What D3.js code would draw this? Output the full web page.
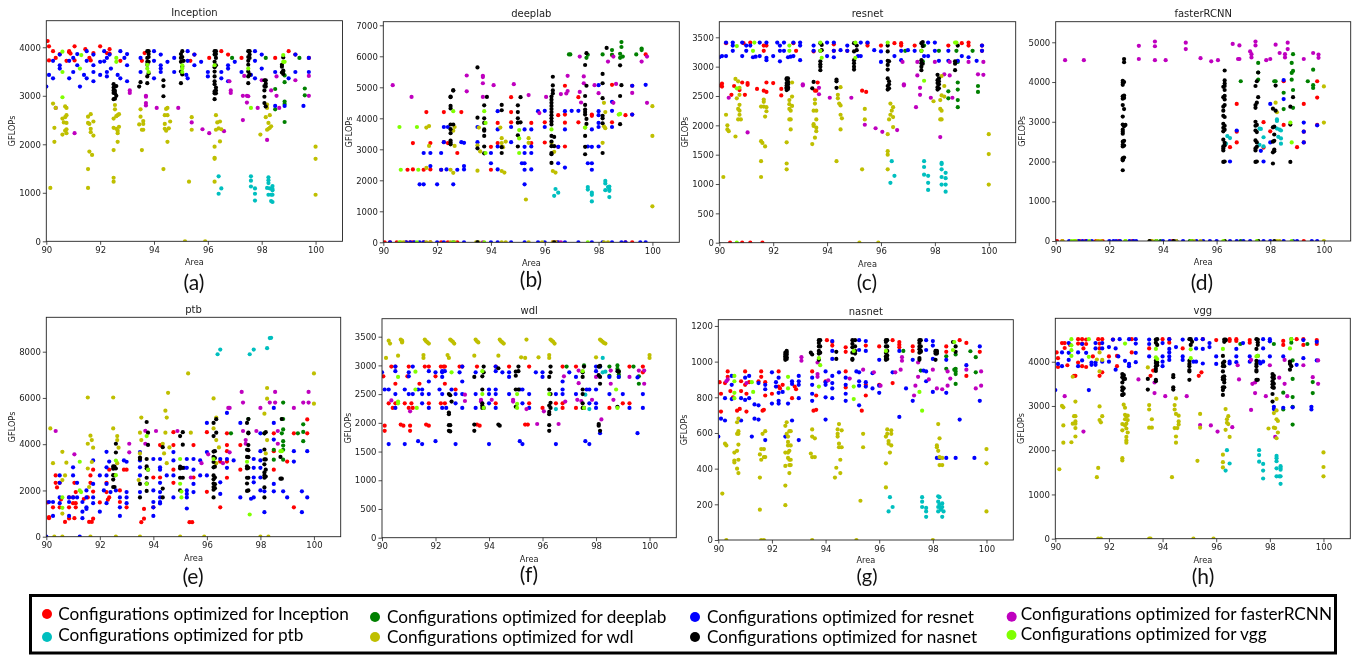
<!DOCTYPE html>
<html><head><meta charset="utf-8">
<style>html,body{margin:0;padding:0;background:#fff;overflow:hidden}svg{display:block;filter:blur(0.35px)}</style>
<script src="https://cdn.jsdelivr.net/npm/d3@7/dist/d3.min.js"></script></head><body>
<svg id="c" width="1362" height="655"></svg>
<script>
const titles=["Inception","deeplab","resnet","fasterRCNN","ptb","wdl","nasnet","vgg"];
const tags=["(a)","(b)","(c)","(d)","(e)","(f)","(g)","(h)"];
const xTicks=[90,92,94,96,98,100];
const yTicksList=[[0,1000,2000,3000,4000],[0,1000,2000,3000,4000,5000,6000,7000],[0,500,1000,1500,2000,2500,3000,3500],[0,1000,2000,3000,4000,5000],[0,2000,4000,6000,8000],[0,500,1000,1500,2000,2500,3000,3500],[0,200,400,600,800,1000,1200],[0,1000,2000,3000,4000]];
const yMax=[4548,7116,3766,5518,9487,3813,1235,4981];
const seriesNames=["Inception","deeplab","resnet","fasterRCNN","ptb","wdl","nasnet","vgg"];
const seriesColors=["#ff0000","#008000","#0000ff","#bf00bf","#00bfbf","#bfbf00","#000000","#7fff00"];
// rows: [area, gflops, gflops, ...]
const a_r=[[90.05,4130],[90.1,4020,3730],[90.25,3920],[90.35,3780],[90.5,3860],[90.85,3900,3920],[90.9,3870],[90.75,3720],[91.05,4020,3730],[91.45,3960],[91.6,3780],[91.65,3730],[91.75,3880],[92,4020],[92.25,3880],[92.35,3960,3870],[92.75,3720],[93.65,3880],[93.55,3720],[95.35,3720],[95.5,3850],[96.05,3780],[96.5,3920],[96.75,3850],[97.25,3780],[98.5,3780],[99,3920],[99.25,3850],[99.75,3780]];
const a_g=[[96.9,3780],[98.15,3780],[99.4,3780],[98.5,3140,2720],[98.85,3280,2880,2830,2460,3420],[98.8,3500],[99.6,3150,3010]];
const a_b=[[90,3190],[90.1,3430],[90.25,3360,3720],[90.5,3850,3630,3560],[90.85,3360,3720],[91,3490,3780],[91.15,3630,3860],[91.25,3190],[91.4,3430],[91.5,3360,3720,3920],[91.75,3490,3300,3630,3850],[92,3430,3700],[92.15,3710,3920],[92.25,3780,3490,3400],[92.35,3850],[92.4,3560],[92.65,3430],[92.75,3360,3920],[92.9,3780],[93,3300,3630,3860],[93.5,3490,3780],[94,3360,3720,3920],[94.25,3490,3560,3630,3850],[94.5,3700],[94.75,3490,3780],[95.25,3360,3720,3920],[95.2,3430],[95.5,3630,3850],[95.75,3700],[96,3490,3400],[96.5,3360,3490],[96.75,3630,3560,3300],[97,3700],[97.25,3490],[97.6,3430],[97.75,3360,3720,3920],[98,3850,3560],[98.15,2780],[98.5,3490,2790],[98.85,2790],[99,3360],[99.25,3490,3850],[99.55,2790],[99.75,3490,3780]];
const a_m=[[90.35,2750],[91.05,2230],[93.1,3110,3060],[93.7,3000,2980,2850,2800],[94.1,2750],[94.9,2750],[95.4,2450],[95.8,2310],[96.05,2230],[96.6,2270],[96.8,3300],[96.85,3110,3060],[97.3,2500,3000],[97.35,3410],[97.45,3000,2860],[97.5,2990],[97.85,2750],[98,3320],[98.2,2090],[98.35,3110],[98.55,3400,3000],[98.65,2750],[99.25,3320],[99.75,3410,3000]];
const a_c=[[96.4,1340,980],[96.5,1090],[97.6,1340,1250,1130],[97.75,1090,980,840],[98.25,1320,1260,1200,960],[98.2,1100],[98.3,1090],[98.35,960,830],[98.4,960,1140,1080,1050,810]];
const a_y=[[90.15,1100],[90.25,2840],[90.3,2340,2050],[90.35,2750],[90.6,2530,2200],[90.65,2450],[90.7,2780,2560,2280],[90.75,2750,2600,2440,2310,2230],[91.55,1490,1100,2570,2440],[91.6,2420,1850],[91.65,2620,2250,2320],[91.7,1780],[91.75,2470,2180],[92.5,2530,2340,1880,1310,1230],[92.55,2810,2720],[92.6,2580,2320],[92.65,2600,2280,2230,2050],[92.7,2620,2360],[93.45,2410],[93.5,2720,2570],[93.55,2300,1880],[93.6,2480,2420,2300],[94.35,1490],[94.4,2420,2320,2600],[94.45,2730,2280],[94.5,2750,2600,2050],[94.55,2330],[94.6,2470],[95.15,0],[95.3,1230],[95.4,2560,2300],[95.9,0],[96.25,1950,1720,1700,1230],[96.3,2600,2300],[96.35,2450],[96.4,2330],[96.45,2470,2060],[96.5,2310],[97.95,2200],[98.15,2560],[98.2,2820,2750,2300],[98.25,2320,2440],[98.3,2340,2600],[98.35,2370],[100,1950,1700,960]];
const a_k=[[92.5,2930,3060,3110,3170,3240],[92.55,2940,3050,3100,3190],[92.6,3000,3200],[93.45,3190],[93.5,3280],[93.75,3260,3400,3700,3780,3920,3640],[93.8,3460,3800,3860,3700,3920],[94.35,2990,3200,3320],[95,3260,3500,3700,3780,3860],[95.05,3440,3600,3800,3920],[95.1,3720],[96.25,2930,3050,3090,3240,3300,3400,3500,3590,3700,3850,3920],[96.3,3050,3110,3170,3630,3780,3860,3920],[97.5,3260,3400,3500,3640,3720,3800,3920],[97.55,3440,3780,3850,3920],[98.1,2850,2980,3110,3200,3320],[98.15,2780,3190,3250,3320],[98.75,3480,3600,3640],[98.8,3450,3520,3790]];
const a_l=[[90.6,3910,3490,2970],[91.3,3840],[91.25,3560],[92.6,3780,3700],[93.75,3640,3560],[93.8,3490],[95.05,3630,3560,3490],[96.25,3630],[97.5,3560],[97.6,2750],[98.8,3840,3700],[98.85,3700]];

const b_r=[[90.9,2340],[91.1,3200,2350],[91.5,2340],[91.6,4200],[91.75,3200,2350],[92.15,2340],[92.25,4200,3230],[92.4,3200],[92.9,4200],[92.75,2880],[94,3080,2340],[94.25,3850,3200],[94.75,4680,3870,4200],[95.5,3850,3200],[96,3870,3220],[96.5,4100,3080],[96.75,5050,4120,3860,3090],[97.25,4680,3870],[97.75,4120,4080],[98.5,5080,3870,6040],[99,4100],[99.25,5050,4120],[99.75,6060]];
const b_g=[[96.9,6060],[96.95,6060],[97.55,5950],[97.6,6050],[98.15,6060],[98.5,6050,6200],[98.8,6080,5950],[98.85,6460,6300],[98.9,5990],[99.4,6060],[99.6,6200,6250]];
const b_b=[[91.35,1870],[91.5,1870,2880],[92,1870],[92.6,1870],[91.75,2880,2460],[92.15,2880,2340],[92.35,2350],[92.75,2340],[93,2460,2350,3210],[92.25,3720,3230],[92.4,3720],[92.9,3230],[93.5,3720,3230],[94,2880,2550],[94.25,4230,3640,3090,2350],[94.75,3720,3230],[95.15,2550],[95.25,2550,3080,2880,3640,2340,1870],[95.5,3640,3090,2880,2350],[95.75,4230],[96,4240,3720],[96.5,3080,2550],[96.75,4230,3640,2410],[97,4240],[97.25,4240],[97.75,3640,3080,2550,2340],[97.6,3090,2550],[98,4230,4100,3850,3720,3090,5070],[98.5,4530,4240,3720],[99.25,5050,4120],[99.75,5080]];
const b_m=[[90.35,5070],[91.05,4690],[93.1,5380,4870],[93.7,5370,5330,5130,4690],[94.1,5070],[94.85,5100],[95.4,4750],[96.05,4690],[96.6,4780],[96.8,4800],[96.85,4880,5370],[97.3,5990,4850],[97.35,4510],[97.45,5350,5130],[97.85,5070],[98,4810],[98.35,5830],[98.55,5990,4500],[98.65,5110],[99.25,4820],[99.6,5830],[99.8,5990,4500],[95.8,4170]];
const b_c=[[96.4,1720],[96.35,1500],[96.5,1600],[97.6,1780,1700],[97.75,1600,1530,1320],[98.25,1980,1900,1680],[98.35,1780],[98.4,1800,1700,1660,1460]];
const b_y=[[91.6,2400,3700],[91.7,3750,3110],[92.5,2340],[92.6,2240,3600],[92.65,3110,3720],[93.5,2310,3130],[93.55,3700],[93.6,2930],[94.35,3700],[94.4,3360,3200,2300],[94.45,3070],[94.55,3250],[94.5,2250],[95.3,1380],[95.4,3360,3210],[96.25,3200],[96.3,2300],[96.4,2250],[96.35,2920],[97.5,3700],[98.15,3210],[98.25,4200,3680],[98.2,4500,3740],[100,4390,3430,1160]];
const b_k=[[92.5,3160,3220,3280,3520,3650,3800,4320,4400,4680,4700],[92.6,4900,4900,3800],[93.5,5640,4020,3030],[93.75,4000,3850,3640,3600,3430,3090,2870,4420],[93.85,4690],[94.4,4430,4260,3070,2880],[95,4420,4200,4000,3450,3090,3860],[95.1,4680,3870],[96.25,4700,4600,4500,4400,4300,4200,4100,4000,3900,3800,3430,3100,2880,2840,2560,3250],[96.3,5340,5060,4900,4800],[96.35,3400,3100],[97.5,5720,4720,4430,4280,4200,4120,3430,3080,2840],[97.55,5050,6100,3980,3820],[98.15,5430,5130,4650,4080,3840,4000,2880],[98.8,5710,4720,3810],[98.85,5070],[98.3,6270]];
const b_l=[[90.6,3720],[90.65,2340],[91.25,3720],[91.3,2340],[92.6,4230],[93.75,4230],[93.8,3850,2880],[95.05,3620,3350,2880],[96.25,3640],[97.5,3700],[98.8,4140],[98.75,4120]];
const b_rZero=[90.05,90.25,90.5,90.85,91,91.1,91.5,91.75,92.15,92.4,92.75,96.3,96.45,99,99.25];
const b_bZero=[90.25,90.85,91,91.15,91.35,91.5,92,92.25,92.6,93,93.5,94,94.25,94.75,95.25,95.75,96,96.5,96.75,97.25,97.75,98.15,98.5,98.85,99,99.55,99.75];
const b_mZero=[93.7,96.6];
const b_yZero=[90.65,90.75,91.6,91.75,92.5,92.65,93.45,93.55,94.4,94.55,95.4,95.9,96.3,96.4,98.2,98.35];
const b_kZero=[93.5,96.35];
const b_lZero=[90.6,91.25,92.6,93.75,97.6];

const c_r=[[90.05,2680],[90.1,2710,2660],[90.25,3400],[90.45,2520],[90.55,2670],[90.75,2600],[90.85,2730],[90.9,3400],[90.95,2520],[91.05,2720,2690],[91.15,3410],[91.4,2620],[91.65,3360,3270,2590],[91.75,2730,2570,3360],[92,2720],[92.3,2620,2510],[92.75,3400],[92.85,3270],[93.5,3260],[93.55,2590],[93.6,2590],[93.65,2730],[94.25,3380,3270],[94.75,3270],[95.3,2590],[95.45,2570],[95.5,3400,3360],[96,3360],[96.5,3400],[96.75,3400,3360],[97.25,3360],[98.5,3360],[99,3400],[99.25,3410,3360],[99.75,3270,3360],[90.4,0],[90.85,0],[91.15,0],[91.6,0]];
const c_g=[[96.9,3270],[97.55,3090],[97.6,3360],[98.15,3270],[98.8,3270],[98.85,3080,2730,2610,2430,2310],[99.4,3270],[98.5,2580,2460],[99.6,2670,2570]];
const c_b=[[90,3160],[90.1,3180],[90.25,3180,3410],[90.5,3360,3410,3270],[90.85,3180,3410],[91,3270,3360],[91.15,3360],[91.25,3160],[91.35,3170],[91.5,3180,3410],[91.75,3150,3110,3410],[92,3180],[92.15,3410],[92.25,3360,3270,3090],[92.4,3270,3410],[92.55,3160],[92.75,3180,3410],[92.65,3170],[93,3360,3410,3110],[93.5,3360,3270],[94,3410,3180],[94.25,3410,3270,3160],[94.5,3280],[94.75,3360,3270],[95.25,3180,3410],[95.15,3180],[95.5,3410],[95.75,3280],[96,3260,3080],[96.5,3180],[96.75,3270,3110],[97,3280],[97.25,3270],[97.75,3410,3180],[97.6,3180],[98,3410,3270],[98.15,3100],[98.5,3270,3100],[98.85,3100],[99,3180],[99.25,3160],[99.55,3100],[99.75,3270,3360]];
const c_m=[[90.35,2470],[91.05,1880],[93.1,2700,2680],[93.7,2640,2530],[94.1,2470],[94.9,2470],[95.4,2010],[95.8,1950],[96.05,1890],[96.6,1920],[96.8,3080],[96.85,2700,2680],[97.3,2310],[97.35,2850,3080],[97.45,2640,2520],[97.85,2470],[98,3080],[98.2,1800],[98.35,2870],[98.55,3080,2850],[98.65,2470],[99.25,3080],[99.6,2870],[99.8,3080,2860]];
const c_c=[[96.4,1390],[96.35,1020],[96.5,1140],[97.6,1390,1290,1160],[97.75,1140,1020,900],[98.25,1360,1340,1250,1120,990],[98.4,1190,1100,990,870]];
const c_y=[[90.15,1120],[90.25,2180],[90.3,2000,1930],[90.35,1900],[90.6,1810,2790],[90.7,2750,2280,2100],[90.75,2640,2520,2250,2350,2180],[90.65,2460],[90.8,2100],[91.55,2320,1730,1390,1120],[91.6,1700],[91.65,2440,2400,2320],[91.7,2150,1640],[91.75,2310,2240],[92.5,1710,1350,1250],[92.55,2740],[92.6,2430,2360,2280,2100],[92.65,2100,2250,1930],[92.7,2330,2490,2730],[93.45,1680],[93.5,2250,2020,1990],[93.55,2440,2370,1790],[93.6,2100,2250,1960,1900],[94.35,1390],[94.4,2520,2460],[94.45,2370],[94.5,2340,2180,1930,2650],[94.55,2120],[95.3,1250],[95.4,2280,2100],[95.2,0],[95.9,0],[96.25,1850,1560,1500,1250],[96.35,2370,2180],[96.4,2250],[96.45,2310,2140,1970],[96.3,2100],[97.95,2410],[98.2,2100,2280,2430],[98.25,2100,2250,2510,2840],[98.35,2490,2670],[100,1850,1510,990]];
const c_k=[[92.5,2600,2630,2650,2680,2720,2780,2800],[92.55,2620,2650,2700,2740,2800],[93.45,2630],[93.5,2740],[93.75,2940,3000,3040,3090,3270,3400],[93.8,3370,3280],[94.35,2640,2750,2780],[95,2950,3000,3060,3110,3260,3400],[95.1,3360,3280],[96.25,2610,2670,2800,2950,3030,3100,3260,3360],[96.3,2700,2750,2630,3090],[97.5,2940,3000,3060,3110,3270,3400],[97.55,3420,3350,3050],[98.1,2860,2610,2650,2720,2770],[98.15,2630,2700,2750,2800],[98.75,2940,3050,3090],[98.85,3360]];
const c_l=[[90.65,3350,2630,0],[91.25,3270],[91.3,3410],[92.6,3360,3270],[93.75,3410,3270],[93.8,3150],[95.05,3410,3150],[96.25,3410],[97.5,3270],[97.6,2760],[98.8,3410],[98.75,3410]];

const d_r=[[96.75,3450,2480,2750],[96.5,2360],[97.75,2990,2350],[98,2760],[98.5,2920,4020],[99,2360],[99.25,3450,2480,2750],[99.75,3610,4020,2920]];
const d_g=[[96.9,4020],[97.55,4480,4240,4060],[98.15,4020],[98.2,4020],[98.5,3730,3320],[98.8,4480,4230,4060],[98.85,4700,4280,3800,3350],[99.4,4020],[99.6,4310,3920,3850]];
const d_b=[[96.5,2000],[96.75,2780],[97.65,2270],[97.75,2000],[98,3450,2480],[98.5,4050,3570],[99.25,2980,2750,2480],[99.75,2910]];
const d_m=[[90.35,4550],[91.05,4550],[93.1,4910,4580],[93.7,5020,4900,4550],[94.1,4550],[94.85,4990,4830],[95.4,4600],[95.8,4520],[96.05,4550],[96.6,4960],[96.8,4580],[96.85,4580,4920],[97.25,4770],[97.3,4700,4620],[97.45,5020,4920],[97.85,4550],[98,4580],[98.2,4940],[98.35,4730],[98.55,4700,4620],[98.65,4990,4830],[99.25,4580],[99.6,4730],[99.8,4690,4610]];
const d_c=[[96.4,2640],[96.35,2450],[96.5,2590],[97.6,2830,2420],[97.65,2820],[97.75,2610,2380],[98.25,3060,3020,2830],[98.35,2800],[98.4,2780,2580,2450],[98.3,2620]];
const d_y=[[98.2,3480],[98.25,3240],[100,3890,2980]];
const d_k=[[92.5,1780,2030,2050,2080,2380,2420,2500,2700,2750,2800,2930,3130,3420,3580,3640,3930,3980,4030],[92.55,2100,2400,2520,2890,3320,3600,3660,4000,4500,4580],[92.6,2920],[96.25,1990,2280,2330,2380,2550,2760,2850,2950,3150,3280,3380,3620,3880],[96.3,2000,2400,2470,2800,2900,3120,3420,3560,3650,3800,3900,3960,4040,4290],[97.45,1990,2280,2330,2530,2780,2900,3000,3350,3420,3900],[97.5,2000,2370,2480,2740,2920,3480,4020],[97.55,3620,4240],[98.1,1950,2230,2860,2500,3330],[98.15,2260,2300,2520,2680,2880],[98.2,3280,3910],[98.75,1990,3380,2930],[98.85,3620]];
const d_l=[[98.75,2980],[98.8,2480]];
const d_rZero=[90.05,90.25,90.9,91.1,91.5,91.75,92.35,92.85,93.55,94.35,99.25];
const d_gZero=[93.9,95,96.9,97.55];
const d_bZero=[90.5,90.85,91,91.15,91.35,92,92.15,92.25,92.4,92.75,92.9,93,94,94.25,94.5,94.75,95.25,95.5,95.75,96,96.5,96.75,97,97.25,97.75,98,98.5,98.85,99,99.55,99.75];
const d_yZero=[90.25,90.7,90.75,91.55,91.6,91.7,92.6,93.5,93.6,94.5,95.15,95.4,96.3,98.25,98.35,100];
const d_kZero=[93.5,93.75,94.4,95.05,96.3,97.55,98.15];
const d_lZero=[90.6,90.7,91.25,92.6,93.75,95.05,96.25,97.5,98.8];

const e_r=[[90.05,1480],[90.1,800,850],[90.25,1270],[90.35,2330,2650],[90.4,2130],[90.5,1270,2330],[90.55,1610],[90.7,640],[90.85,790,1700,1270],[91,1450,1700],[91.05,800,2330],[91.1,1270,1450,1930],[91.4,1630],[91.55,1700],[91.6,640],[91.7,640],[91.75,780,2900,1950],[91.65,2650,2330],[92,1480],[92.25,2330,1930],[92.3,1600],[92.35,1700,2900],[92.75,1500,2000],[92.9,2900],[93,2900,1270],[93.55,630],[93.65,780,1200],[94,2560,1270],[94.25,3960,2560],[94.75,4520,3960,2900,2330],[95.35,630],[95.45,630],[95.5,2560,3960],[96,4520,1940],[96.5,1270,3250],[96.75,4470,3960,3700,3250,2550],[97.25,3960,2900],[98.5,4470,3700,2900],[99,3250],[99.25,4470,1270],[99.75,5070,4470]];
const e_g=[[96.9,4470],[97.55,5090],[98.15,4470],[98.5,3760,3330],[98.8,5090,4470],[98.85,5800,5090,4640,4130,3940,3760,3330],[99.4,4470],[99.6,4860,4530,4130]];
const e_b=[[90,0],[90.1,1500],[90.25,1500,900],[90.5,2650,2330,1700,1450],[90.85,1700,1500,900],[91,3000,2650,1700],[91.15,1700,2330],[91.25,0],[91.35,1500,1080,800],[91.5,2000,1700,1270,1200],[91.75,3300,2280,1700,1450],[92,2650,1080],[92.15,2000],[92.25,3670,3000,2650,2280,1450],[92.35,3250],[92.4,1930],[92.6,2000],[92.75,1700,1270,900],[92.9,3300],[93,3240,1930,1700,1450],[93.5,3660,3300,3000,2650,1930],[94,3360,2000,1500,1270,900],[94.25,3360,3000,2900,2330,1930,1700,1500,1440],[94.5,2650],[94.75,3660,3300,2650,1700],[95.15,2980],[95.25,3360,2980,2000,1850,1700,1220],[95.5,3360,2900,2280,1930],[95.75,3300,2650],[96,4920,3660,2650],[96.5,3360,2350,1850],[96.75,5350,3360,2980],[97,3300],[97.25,4920,1700],[97.65,1640],[97.75,3360,2980,2560,2350,1700],[98,4470,3700,3300,2980,2560,2000],[98.15,1960,1060],[98.5,5570,4920,4200,2280,1960],[98.85,1960],[99,1700],[99.25,3700,3250],[99.55,1960,1060],[99.75,3700,1700]];
const e_m=[[90.35,4570],[91.05,3560],[93.1,4020,3650],[93.7,4580,4020],[94.1,4570],[94.9,4570],[95.4,2560],[95.8,3180],[96.05,3560],[96.6,3180],[96.8,5570],[96.85,5570,3650],[97.3,6260],[97.35,5800,4570],[97.45,4180,4020],[97.85,4570],[98,5570],[98.35,5800],[98.55,6260,5800],[98.65,4570,4020],[99.25,5570],[99.6,5800],[99.8,6260,5800]];
const e_c=[[96.4,7890],[96.5,8090],[97.6,7890],[97.75,8090],[98.25,8150],[98.4,8600],[98.35,8590]];
const e_y=[[90.15,4680],[90.25,3180],[90.3,0],[90.6,3670,2450,1000,0],[90.7,2650],[90.75,3200],[91.55,6020,4020,2950],[91.6,2150],[91.65,4370,0],[91.7,4180,3230],[91.75,3850],[92.5,6020,4680],[92.65,4350,4180,3180],[92.7,3850],[92.6,0],[93.45,2450],[93.5,4500,3600,0],[93.55,5150,4180],[94.35,4020],[94.4,3600],[94.45,5450,4500],[94.5,5150,3180],[94.55,6220],[94.6,3860],[95.3,7060],[95.4,4500],[95,0],[95.9,0],[96.25,5980,4680],[96.35,5150,4180,3180],[96.45,3860],[98.15,5320],[98.25,6430,5970,4180],[98.2,3600],[98.3,0],[98,0],[100,7060,5750]];
const e_k=[[92.5,2150,2470,2660,2940,3040],[92.55,2150,3030,2650],[92.6,3640,4020,2950],[93.5,1700,2280,3360,3420],[93.75,1980,2300,2550,2950,3040,3360,4960],[93.8,3970,2900,4500],[94.35,1700,2080,3870],[95,2000,2550,2950,3030,4350],[95.1,3980,4520,2550,2980],[96.25,1700,2030,2150,2300,2480,2650,3000,3230,3450,3680,4350,4920],[96.3,2100,2270,2560,3030,3700,3400],[96.35,4500,5080],[97.5,1980,2300,2550,2950,3040,3450,3760,4920],[97.55,2000,2550,2980,3440,3740,3960,4470,4500,5090],[98.15,2130,1700,2550,2650,2780,3130,3340,3770,4470],[98.2,2600,2900,3340,4520],[98.75,2510,3450],[98.8,2510,5090]];
const e_l=[[90.6,1700,1250],[91.25,3240,2000],[91.3,1930],[92.6,3290,2660],[93.75,4350,2280],[93.8,2900],[95,3360,2290],[95.05,1700,1950],[96.25,3360],[97.5,3240],[97.6,960],[98.8,3700],[98.75,3700]];

const f_r=[[90.05,2810],[90.1,1950,1860],[90.25,2340],[90.35,2980],[90.4,2260],[90.5,2980,2680,2340],[90.7,1970],[90.8,1950],[90.85,2340],[90.95,2810],[91,2980,2260],[91.05,1950,1860],[91.1,2340],[91.15,2260],[91.4,2680],[91.6,2980],[91.65,1970],[91.75,2980,1950,2340],[92,2810],[92.2,2340,2980],[92.3,2980],[92.35,2680,2340,2980],[92.75,2580],[92.9,2980],[93,2980],[93.55,2980,1970],[93.65,1950],[94.25,2980,2340],[94.75,2980],[95.35,1970],[95.45,1970],[95.5,2980,2340],[96,2260],[96.5,2340],[96.75,2980,2340,2260],[97.25,2980,2260],[98.5,2260],[99,2340],[99.25,2980,2340],[99.75,2980,2880]];
const f_g=[[96.9,2980],[97.55,3000],[98.15,2980],[98.5,2980,2820],[98.8,3000,2940],[98.85,2900,2840,2800],[99.4,2980],[99.6,2810,2680]];
const f_b=[[90,2880],[90.1,2580],[90.25,2580,1630],[90.5,2980,2900,2500,2260],[90.85,2580,1630],[91,2880,2500,2810],[91.15,2980,2500],[91.35,1680,2580],[91.5,2580,2500,2340,1630],[91.75,2900,2720,2500,2260],[92,2880,1680],[92.15,2580],[92.25,2900,2880,2800,2500,2260],[92.35,2900],[92.4,2260],[92.6,2580],[92.75,2500,2340,1630],[92.9,2880],[93,2980,2720,2500,2260],[93.5,2880,2500,2260],[94,2580,2500,2340,1630],[94.25,2980,2900,2580,2500,2260],[94.5,2880],[94.75,2880,2800,2500],[95.15,2580,1680],[95.25,2580,2340,1630],[95.5,2500,2260],[95.75,2880],[96,2880,2800],[96.5,2500,1630],[96.75,2720,2580,2500],[97,2880],[97.25,2800,2500],[97.6,1680],[97.65,2580],[97.75,2580,2340,1630],[98,2980,2900,2580,2340,2260],[98.15,1820,2980],[98.5,2800,2500],[98.85,2800],[99,2500],[99.25,2260],[99.55,2790,1820],[99.75,2500,2260]];
const f_m=[[90.35,2390],[91.05,2200],[93.1,2490,2380],[93.7,2400,2370],[94.1,2400],[94.9,2400,2370],[95.4,2240],[95.8,1980],[96.05,2200],[96.6,1980],[96.8,2810],[96.85,2370],[97.3,2400],[97.35,2690,2910],[97.45,2380],[97.85,2400],[98,2800],[98.2,2060],[98.55,2910,2680],[98.65,2400],[99.25,2800],[99.6,2910],[99.8,2910,2680]];
const f_c=[[96.5,2240],[97.6,2490],[97.75,2240],[98.25,3130,2880],[98.35,2890]];
const f_y=[[90.15,3130],[90.25,3430],[90.3,3380],[90.6,3170],[90.7,3450],[90.75,3400,3430,3420],[91.55,3180,3130],[91.6,3450],[91.65,3420],[91.7,3400],[91.75,3380],[92.45,3180],[92.5,3130],[92.55,3450],[92.6,3430],[92.65,3410],[92.7,3380],[93.45,3170],[93.5,3450],[93.55,3420],[93.6,3400],[94.35,3170],[94.4,3450],[94.45,3420],[94.5,3400],[94.55,3380],[95.2,3140],[95.35,3130],[95.4,3450],[95.85,3140],[96.25,3180,3130],[96.3,3450],[96.35,3430],[96.4,3410],[96.45,3380],[98,3140],[98.15,3450],[98.2,3430],[98.25,3410],[98.3,3390],[98.35,3380],[100,3180,3130]];
const f_k=[[92.5,1860,1960,2150,2180,2500],[92.55,1960,1850,2480],[92.6,2370],[93.45,1970,1860,2800],[93.75,2810,2580,2300,2340,2260],[93.8,2980,2880,2260],[94.35,2950,1970],[94.4,1950],[95,2280,2580,2820,2890],[95.1,2980,2900,2580],[96.25,1860,1960,2150,2190,2300,2580,2800],[96.3,2980,2880,2500,2260,2350],[97.5,2580,2500,2340,2260,2800,2880],[97.55,2980,2260],[98.1,1950,1980,2830,2980],[98.15,1860,2800,2680,2990],[98.8,2280,2900],[98.85,2890]];
const f_l=[[90.6,2800,2370,2340],[91.25,2890,2580],[91.3,2260],[92.6,2880],[93.75,2500,2900],[93.8,2260],[95.05,2500,2330,2260],[96.25,2500],[97.5,2900],[97.55,2260],[98.75,2580],[98.8,2260]];

const g_r=[[90.05,885],[90.1,820,720],[90.25,880],[90.35,945,915],[90.45,835],[90.55,800],[90.7,725],[90.8,735],[90.85,890,835],[91,945,870],[91.05,820,720],[91.15,885],[91.5,890],[91.6,945,915],[91.65,725],[91.7,730],[91.75,885,810],[92,820],[92.25,945,860],[92.3,850],[92.4,870],[92.75,795],[92.85,860],[92.9,845],[93.5,945],[93.55,725],[93.65,730,810],[94,890],[94.05,1120],[94.25,1110,1090],[94.75,1080,1055,945,855],[95.35,725],[95.5,1090,870,810],[96,1085,870],[96.5,1120,880],[96.75,1110,1095,1080],[97.25,1085,1060],[98.5,1085,1055],[99,1120],[99.25,1105,920],[99.75,1055]];
const g_g=[[96.9,1060],[97.55,950],[98.5,1030,960],[98.8,955],[98.85,1040,960,945,930,875],[99.4,1058],[99.6,1025,940]];
const g_b=[[90,580],[90.1,680],[90.25,670,795],[90.5,920,870,790],[90.85,795,670],[91,910,785],[91.15,920,795],[91.25,580],[91.35,760,680],[91.5,880,755,675],[91.75,870,845,560],[92,940,765],[92.15,885,860],[92.25,910,825,780,765],[92.4,830],[92.5,580],[92.6,765],[92.75,890,875,670],[93,870,890,920,795,560],[93.5,910,870,820,780],[94,945,885,870,800,675],[94.25,1115,1060,1015,920,880,850,795],[94.5,940],[94.75,910,870,820,780],[95.15,945],[95.25,1120,1065,940,890,865,755],[95.5,1115,1060,885,860],[95.75,850,935],[96,1010,825,865],[96.5,940],[96.75,1060,690],[97,850],[97.25,1010,780],[97.75,1120,1065,945,890],[97.65,950],[98,1115,1090,1015,830],[98.5,1010,825,460],[98.15,460],[98.25,460],[98.85,460],[99,675],[99.25,980],[99.55,460],[99.75,1085,780]];
const g_m=[[90.35,900],[90.3,890],[91.05,880],[93.1,1025,1005],[93.7,995,930,915],[94.1,895],[94.9,905],[95.4,955],[95.8,940],[96.05,865],[96.6,940],[96.8,955],[96.85,1025,1005],[97.3,810],[97.35,865],[97.45,995,915],[97.85,900],[98,955],[98.15,850],[98.35,845],[98.55,945,865],[98.65,905],[99.25,955],[99.6,850],[99.8,945,865]];
const g_c=[[96.4,240],[96.35,160],[96.5,185],[97.6,240,215,185],[97.75,180,160,130],[98.2,245,215,185,160],[98.25,240,200],[98.3,180,170],[98.35,205,185,130],[98.4,160]];
const g_y=[[90.15,260],[90.25,540],[90.3,530,0],[90.6,490,445,435],[90.7,500,400,660,595],[90.75,680,610,595,535,450,375],[91.55,480,350,170],[91.6,510,450,0],[91.65,595],[91.7,510,465,0],[91.75,610,465],[92.5,640,490,415,305,195],[92.55,660,595],[92.6,580,550,530,490,460],[92.65,610,500,450,420,375],[92.7,610,530,450,420],[93.45,485],[93.5,620,580,465,0],[93.6,570,465],[94.35,350],[94.45,620,595,580],[94.5,650,540,520],[94.55,450,375],[94.4,405],[94.6,615,520],[95.15,0],[95.3,220],[95.4,595,520],[96.25,580,430,295],[96.3,620,595],[96.35,555,540],[96.4,490],[96.45,615,595,530],[98,0],[98.15,530,520],[98.2,650,500],[98.25,570,465,420],[98.35,460,420],[100,510,430,160]];
const g_k=[[92.5,1010,1020,1030,1040,1050],[92.55,1015,1025,1040,1060,1050],[93.45,1050],[93.5,1040],[93.75,1010,1045,1060,1085,1105,1120],[93.8,1050,1085,1120],[94.4,1015,1055],[95,1010,1015,1050,1080,1100,1120],[95.1,1045,1085,1120,1060],[96.25,1010,1020,1030,1050,1085,1110,1120],[96.3,1015,1035,1060,1085,1120],[97.5,1010,1020,1050,1070,1085,1105,1120],[97.55,1055,1085,1120,1060],[98.1,1010,1055,1045,1060],[98.15,1045,1060,1055],[98.75,1110],[98.85,1085,1055]];
const g_l=[[90.6,920,890,825,795],[91.25,885],[91.3,830],[92.6,915,850],[93.75,1020,860],[93.8,980],[95.05,1060,860,790],[96.25,1060],[97.5,830],[97.6,725],[98.8,1110],[98.75,1065]];

const h_r=[[90.05,4210],[90.1,4080,3880],[90.25,4420],[90.35,4420,4310],[90.45,3920],[90.55,4380],[90.7,3680],[90.75,3680],[90.85,4510,4410,3980],[91,4510,4410,3900],[91.05,4300],[91.15,4500,4400,3880],[91.4,4120],[91.6,4510],[91.65,4410,4300,3680],[91.75,4510,3760],[92,4120],[92.15,4500],[92.3,4130,3900],[92.85,4210,4510],[93.5,4300],[93.55,3680],[93.65,3800],[94,4510],[94.25,4510,4430],[94.75,4300],[95.35,3680],[95.45,3760],[95.5,4510],[96,4490],[96.5,4510,4470],[96.75,4510,4470],[97.25,4490,4430],[98.5,4470,4380],[99,4510],[99.25,4510,4380],[99.75,4490,4400]];
const h_g=[[96.9,4400],[97.55,4130],[98.15,4400],[98.8,4430,4510],[98.85,4030,3610,3200,2980,2580],[98.5,3300,2920],[99.4,4400],[99.6,3540,3290]];
const h_b=[[90,3360],[90.1,3950],[90.25,3900,4210],[90.5,4420,4200,4040],[90.85,3900,4210],[91,4400,4030],[91.15,4200],[91.25,3360],[91.35,3980,3930],[91.5,4300,4420,3980,3930],[91.75,4300,4420,4000],[92,4330,4000],[92.15,4500],[92.25,4300,3820],[92.35,4120],[92.4,4510],[92.6,4020],[92.75,4510,3900,3950],[93,4510,4410,4200,3990],[93.5,4500,4400,4120],[94,4420,4120,4000,3900],[94.25,4510,4290,4210,4120,4040],[94.5,4330],[94.75,4500,4120,4040],[95.15,4000],[95.25,4510,4300,4000],[95.5,4510,4290,3960],[95.75,4420,4330],[96,4120,3950],[96.5,4000,3960],[96.75,4290,3990,4120],[97,4420],[97.25,4120,4000],[97.6,4000],[97.75,4510,4300,4000],[97.65,3960],[98,4510,4460,4120],[98.15,2980,2930],[98.5,4120,2960],[98.85,2970],[99,3930],[99.25,4080,4490],[99.55,2980,2920],[99.75,4450,4030]];
const h_m=[[90.35,3220],[91.05,2420],[93.1,3600],[93.7,3530,3290],[94.1,3220],[94.9,3220],[95.4,2570],[95.8,2560],[96.05,2420],[96.6,2520],[96.8,3920],[96.85,3600],[97.3,2910,4040],[97.35,3500],[97.45,3530,3290],[97.85,3220],[98,3920],[98.2,2300],[98.35,3640],[98.55,4040,3500],[98.65,3220],[99.25,3920],[99.6,3650],[99.8,4030,3500]];
const h_c=[[96.4,2000],[96.35,1540],[96.5,1700],[97.6,2000,1890,1740],[97.75,1690,1540,1360],[98.25,1870,1820,1750,1590,1410],[98.4,1640,1600,1560,1410,1240],[98.35,1410]];
const h_y=[[90.15,1570],[90.25,3000],[90.3,2970,2560,2170],[90.6,2180],[90.65,3660,2600],[90.7,2770],[90.75,3100,2770,2650,2600,2500,2310],[91.55,4050,1390],[91.6,1600,0],[91.65,4210,3780,2990,2680],[91.7,2630,0],[91.75,4040,2770],[92.5,2590,2450,1820,1770],[92.55,3030],[92.6,2960,2800,2700,2560],[92.65,2770,2600,2490,2300,2220,2170],[92.7,2780,2680,2400],[93.45,3870],[93.5,3020,2920,2510,0],[93.55,0],[93.6,2700,2510],[94.35,1390],[94.45,3020,2920,2500],[94.5,3170,2820,2310,2170],[94.6,2780,2650,2580],[94.55,2500],[95.3,1760],[95.4,2820,2510],[95.15,0],[95.9,0],[96.25,1900,1730,1610],[96.35,2930,2460],[96.4,2700,2620],[96.45,2770,2590],[96.5,2300],[97.95,2490],[98.15,2840,2510],[98.2,2500],[98.25,3160,2900,2700,2270],[98.3,2660,2400],[100,1950,1620,1410]];
const h_k=[[92.5,3250,3250,3350,3420,3530,3650,3720],[92.55,3270,3400,3600,3680,3700],[92.6,3610],[93.45,3370,3610],[93.75,3590,3560,3790,3840,3900,3970,4020,4430,4500],[93.8,3980,3920,4380,4510],[94.4,3370,3420,3650,3700],[95,3590,3780,3810,3900,3950,4020,4510],[95.05,4380,4510],[95.1,4450],[96.25,3250,3360,3420,3600,3650,3780,3900,3970,4130],[96.3,3420,3530,3600,3670,3900,4000,4500,4450],[96.35,4500,4480],[97.5,3590,3780,3810,3900,3950,4020,4290,4510],[97.55,3590,4380,4440,4500],[98.1,3100,3270,3420,3490,3560,3650,3720],[98.15,3410,3500,3620,3680],[98.75,3820,3950,4000],[98.8,3900]];
const h_l=[[90.6,4510,4370,4260,4130],[91.25,4510,4110],[92.6,4410],[93.75,4290,4100],[93.8,4060],[95.05,4280,4080],[96.25,4290],[97.5,4120],[97.55,4130],[98.8,4510],[98.75,4300]];

const zeroed=(rows,xs)=>xs?rows.concat(xs.map(x=>[x,0])):rows;
const panelSeries=[
 [a_r,a_g,a_b,a_m,a_c,a_y,a_k,a_l],
 [zeroed(b_r,b_rZero),b_g,zeroed(b_b,b_bZero),zeroed(b_m,b_mZero),b_c,zeroed(b_y,b_yZero),zeroed(b_k,b_kZero),zeroed(b_l,b_lZero)],
 [c_r,c_g,c_b,c_m,c_c,c_y,c_k,c_l],
 [zeroed(d_r,d_rZero),zeroed(d_g,d_gZero),zeroed(d_b,d_bZero),d_m,d_c,zeroed(d_y,d_yZero),zeroed(d_k,d_kZero),zeroed(d_l,d_lZero)],
 [e_r,e_g,e_b,e_m,e_c,e_y,e_k,e_l],
 [f_r,f_g,f_b,f_m,f_c,f_y,f_k,f_l],
 [g_r,g_g,g_b,g_m,g_c,g_y,g_k,g_l],
 [h_r,h_g,h_b,h_m,h_c,h_y,h_k,h_l]];
// plot frames: left, right, top, bottom; tag centre x, baseline y, tag size, "Area" offset
const frames=[[46.3,342.5,20.7,241.3,194,290,21,24],[383.3,679.3,21.7,242.3,531,287,21,24],[719.3,1015.7,21.7,242.7,867,290,21,24],[1055.7,1350.7,21.7,241,1202,290,21,24],[46.3,340.7,317.3,536.7,193,584,21,24],[382,676.3,318.7,537.7,529,582,21,24],[718.3,1013.3,319.7,540,867,583,20,23.2],[1055.3,1350.3,318.3,538.7,1203,584,21,24]];
const svg=d3.select("#c");
const FONT="'DejaVu Sans',sans-serif";
titles.forEach((title,i)=>{
  const [l,r,t,b,tagX,tagY,tagSize,areaOff]=frames[i];
  const x=d3.scaleLinear().domain([90,101]).range([l,r]);
  const y=d3.scaleLinear().domain([0,yMax[i]]).range([b,t]);
  const g=svg.append("g");
  const cid="clip"+i;
  svg.append("clipPath").attr("id",cid).append("rect").attr("x",l).attr("y",t).attr("width",r-l).attr("height",b-t);
  const plot=g.append("g").attr("clip-path",`url(#${cid})`);
  panelSeries[i].forEach((rows,s)=>{
    const pts=rows.flatMap(row=>row.slice(1).map(v=>[row[0],v]));
    plot.append("g").attr("fill",seriesColors[s]).selectAll("circle").data(pts).join("circle")
      .attr("cx",d=>x(d[0])).attr("cy",d=>y(d[1])).attr("r",2.1);
  });
  const ax=g.append("g").attr("transform",`translate(0,${b})`).call(d3.axisBottom(x).tickValues(xTicks).tickSize(3.5).tickPadding(2).tickFormat(d3.format("d")));
  const ay=g.append("g").attr("transform",`translate(${l},0)`).call(d3.axisLeft(y).tickValues(yTicksList[i]).tickSize(3.5).tickPadding(2).tickFormat(d3.format("d")));
  [ax,ay].forEach(a=>{a.select(".domain").remove();a.selectAll("text").attr("font-family",FONT).attr("font-size",8.5).attr("fill","#222");a.selectAll("line").attr("stroke","#222").attr("stroke-width",0.8);});
  g.append("rect").attr("x",l).attr("y",t).attr("width",r-l).attr("height",b-t).attr("fill","none").attr("stroke","#222").attr("stroke-width",0.9);
  g.append("text").attr("x",(l+r)/2).attr("y",t-4.5).attr("text-anchor","middle").attr("font-family",FONT).attr("font-size",10).attr("fill","#222").text(title);
  g.append("text").attr("x",(l+r)/2).attr("y",b+areaOff).attr("text-anchor","middle").attr("font-family",FONT).attr("font-size",8.2).attr("fill","#222").text("Area");
  g.append("text").attr("transform",`translate(${l-31},${(t+b)/2}) rotate(-90)`).attr("text-anchor","middle").attr("font-family",FONT).attr("font-size",8.2).attr("fill","#222").text("GFLOPs");
  g.append("text").attr("x",tagX).attr("y",tagY).attr("text-anchor","middle").attr("font-family","Lato,sans-serif").attr("font-size",tagSize).attr("fill","#111").text(tags[i]);
});
// legend: marker x, y, text x, baseline y
const legendPlace=[[47,614,58.3,620],[375,617,387,623],[695,617,707,623],[1011.7,616.7,1020.7,619.7],[47,637,58.3,641],[375,637,387,643],[695,637,707,643],[1011.5,635,1020.7,640.4]];
svg.append("rect").attr("x",30.5).attr("y",595.5).attr("width",1305).attr("height",57.5).attr("fill","#fff").attr("stroke","#000").attr("stroke-width",3);
seriesNames.forEach((name,s)=>{
  const [mx,my,tx,ty]=legendPlace[s];
  svg.append("circle").attr("cx",mx).attr("cy",my).attr("r",5).attr("fill",seriesColors[s]);
  svg.append("text").attr("x",tx).attr("y",ty).attr("font-family","Lato,sans-serif").attr("font-size",17.2).attr("fill","#000").text("Configurations optimized for "+name);
});
</script></body></html>
